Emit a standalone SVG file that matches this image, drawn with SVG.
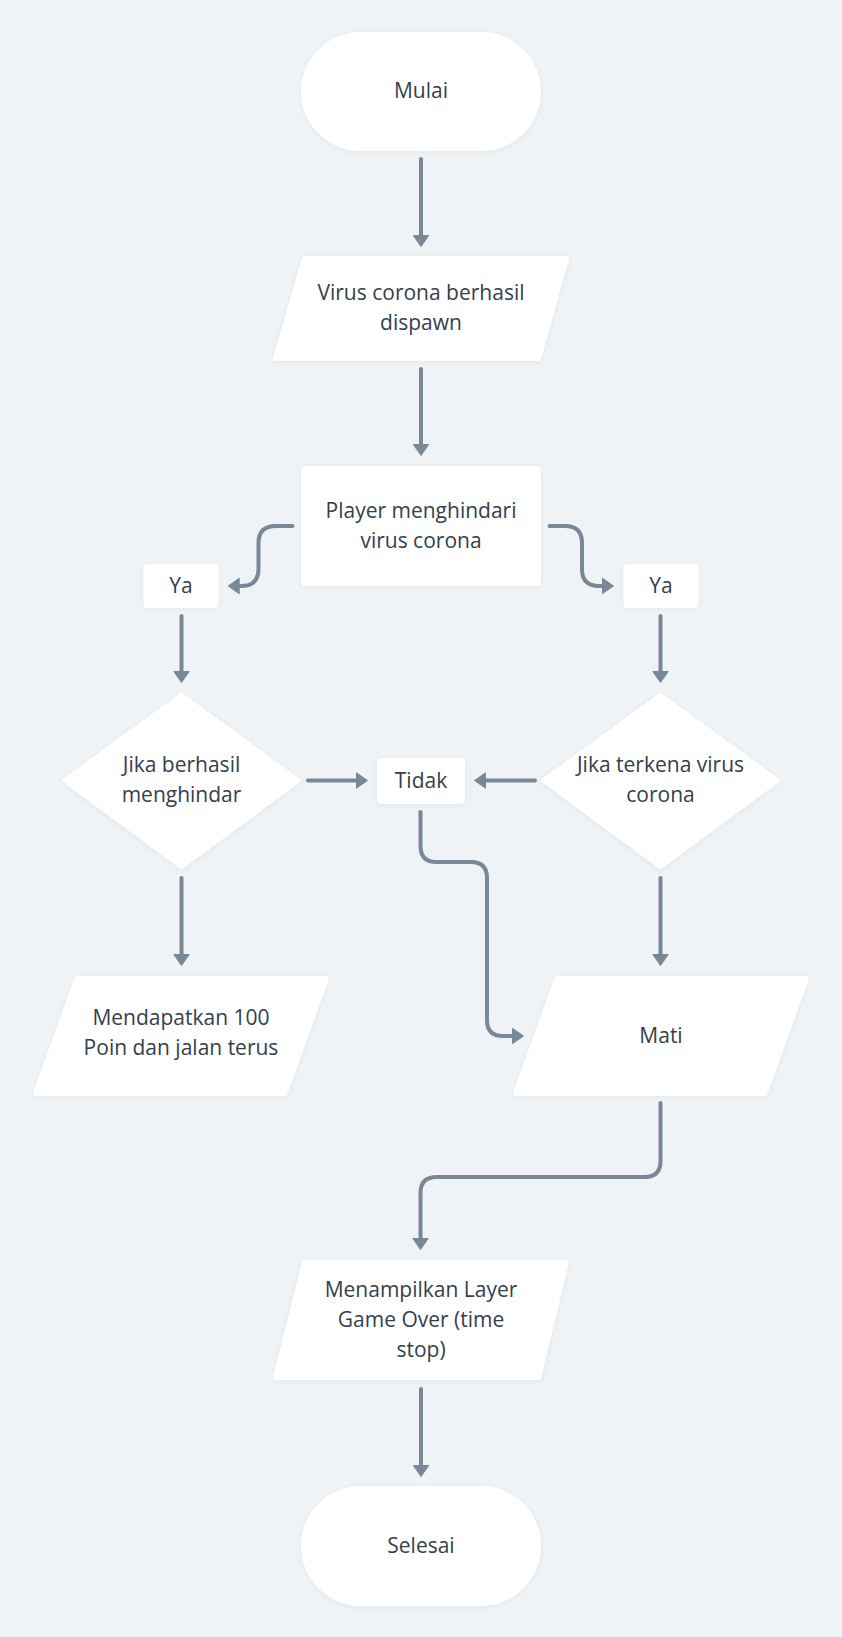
<svg xmlns="http://www.w3.org/2000/svg" width="842" height="1637" viewBox="0 0 842 1637">
<defs>
<style>
.shape{fill:#ffffff;filter:url(#sh)}
.poly{fill:#ffffff;stroke:#ffffff;stroke-width:5;stroke-linejoin:round;filter:url(#sh)}
.t{font-family:"Open Sans","Noto Sans","DejaVu Sans",sans-serif;font-size:21px;fill:#35404c;text-anchor:middle}
.c{fill:none;stroke:#798897;stroke-width:4;stroke-linecap:round;stroke-linejoin:round}
</style>
<filter id="sh" x="-10%" y="-10%" width="120%" height="130%">
<feDropShadow dx="0" dy="1" stdDeviation="2" flood-color="#4a5a6a" flood-opacity="0.08"/>
</filter>
<marker id="ah" viewBox="0 0 12 17" refX="2" refY="8.5" markerWidth="12" markerHeight="17" orient="auto" markerUnits="userSpaceOnUse" overflow="visible">
<path d="M0.5,0.8 L11.5,8.5 L0.5,16.2 z" fill="#798897" stroke="#798897" stroke-width="1" stroke-linejoin="round"/>
</marker>
</defs>
<rect x="0" y="0" width="842" height="1637" fill="#eff3f6"/>

<g id="mulai">
<rect class="shape" x="301" y="32" width="240" height="119" rx="59.5"/>
<text class="t" x="421" y="98">Mulai</text>
</g>

<g id="spawn">
<polygon class="poly" points="304.5,258.5 566.5,258.5 538.5,358.5 275.5,358.5"/>
<text class="t" x="421" y="300">Virus corona berhasil</text>
<text class="t" x="421" y="330">dispawn</text>
</g>

<g id="player">
<rect class="shape" x="301" y="466" width="240" height="120" rx="4"/>
<text class="t" x="421" y="518">Player menghindari</text>
<text class="t" x="421" y="548">virus corona</text>
</g>

<g id="ya-left">
<rect class="shape" x="143.5" y="564" width="75" height="44" rx="4"/>
<text class="t" x="181" y="593">Ya</text>
</g>

<g id="ya-right">
<rect class="shape" x="623.5" y="564" width="75" height="44" rx="4"/>
<text class="t" x="661" y="593">Ya</text>
</g>

<g id="berhasil">
<polygon class="poly" points="181.5,695.5 298,780.5 181.5,866.5 65,780.5"/>
<text class="t" x="181.5" y="772">Jika berhasil</text>
<text class="t" x="181.5" y="802">menghindar</text>
</g>

<g id="tidak">
<rect class="shape" x="377" y="758" width="88" height="46" rx="4"/>
<text class="t" x="421" y="788">Tidak</text>
</g>

<g id="terkena">
<polygon class="poly" points="660.5,695.5 777,780.5 660.5,866.5 544,780.5"/>
<text class="t" x="660.5" y="772">Jika terkena virus</text>
<text class="t" x="660.5" y="802">corona</text>
</g>

<g id="poin">
<polygon class="poly" points="77,978.5 326.5,978.5 285,1093.5 35.5,1093.5"/>
<text class="t" x="181" y="1025">Mendapatkan 100</text>
<text class="t" x="181" y="1055">Poin dan jalan terus</text>
</g>

<g id="mati">
<polygon class="poly" points="557,978.5 806.5,978.5 765,1093.5 515.5,1093.5"/>
<text class="t" x="661" y="1043">Mati</text>
</g>

<g id="gameover">
<polygon class="poly" points="304.5,1262.5 566.5,1262.5 538.5,1377.5 275.5,1377.5"/>
<text class="t" x="421" y="1297">Menampilkan Layer</text>
<text class="t" x="421" y="1327">Game Over (time</text>
<text class="t" x="421" y="1357">stop)</text>
</g>

<g id="selesai">
<rect class="shape" x="301" y="1486" width="240" height="120" rx="60"/>
<text class="t" x="421" y="1553">Selesai</text>
</g>

<g id="connectors">
<path class="c" d="M421,159 V237" marker-end="url(#ah)"/>
<path class="c" d="M421,369 V446" marker-end="url(#ah)"/>
<path class="c" d="M292.5,526 H276 Q258.5,526 258.5,543 V569 Q258.5,586 241.5,586 H237.7" marker-end="url(#ah)"/>
<path class="c" d="M549.5,526 H565 Q582,526 582,543 V569 Q582,586 599,586 H604" marker-end="url(#ah)"/>
<path class="c" d="M181.5,616 V673" marker-end="url(#ah)"/>
<path class="c" d="M660.5,616 V673" marker-end="url(#ah)"/>
<path class="c" d="M308,780.5 H358" marker-end="url(#ah)"/>
<path class="c" d="M535,780.5 H484" marker-end="url(#ah)"/>
<path class="c" d="M420.5,812 V846 Q420.5,862 436.5,862 H471 Q487,862 487,878 V1020 Q487,1036 503,1036 H514" marker-end="url(#ah)"/>
<path class="c" d="M181.5,878 V956" marker-end="url(#ah)"/>
<path class="c" d="M660.5,878 V956" marker-end="url(#ah)"/>
<path class="c" d="M660.5,1103 V1161 Q660.5,1177 644.5,1177 H436.5 Q420.5,1177 420.5,1193 V1240" marker-end="url(#ah)"/>
<path class="c" d="M421,1389 V1467" marker-end="url(#ah)"/>
</g>
</svg>
